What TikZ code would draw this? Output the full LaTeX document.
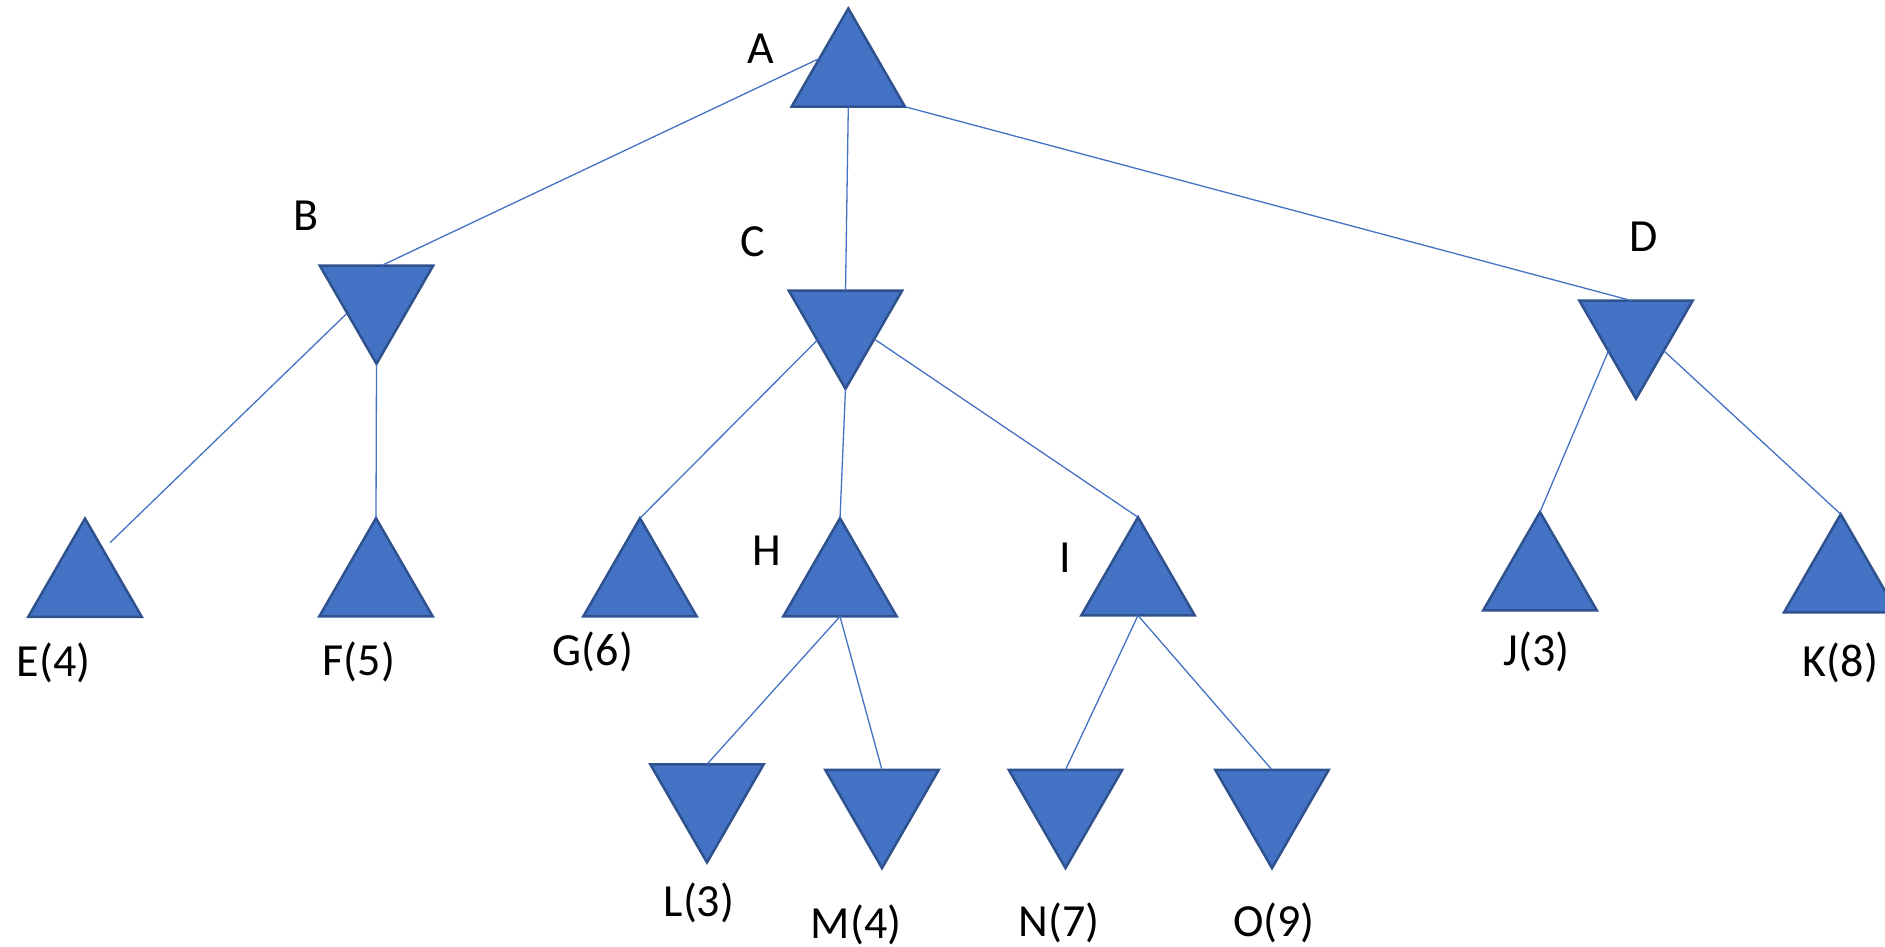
\documentclass[tikz,border=0pt]{standalone}
\usepackage{fontspec}
\setmainfont{Carlito}
\usetikzlibrary{shapes.geometric,calc}
\definecolor{triblue}{HTML}{4472C4}
\definecolor{triedge}{HTML}{2F528F}
\begin{document}
\begin{tikzpicture}[x=0.5pt,y=-0.5pt,
  tri/.style={regular polygon, regular polygon sides=3, minimum size=65.5pt,
    inner sep=0pt, outer sep=0pt, fill=triblue, draw=triedge, line width=1.25pt},
  uptri/.style={tri},
  downtri/.style={tri, shape border rotate=180},
  link/.style={draw=triblue, line width=0.65pt},
  lbl/.style={anchor=base, inner sep=0pt, font=\fontsize{23}{28}\selectfont}]
\useasboundingbox (0,0) rectangle (1885,947);

% tree nodes (max: up, min: down)
\node[uptri]   (A) at (848.3,74) {};
\node[downtri] (B) at (376.5,298.3) {};
\node[downtri] (C) at (845.5,323.3) {};
\node[downtri] (D) at (1636,333.3) {};
\node[uptri]   (E) at (85,584) {};
\node[uptri]   (F) at (376,583.7) {};
\node[uptri]   (G) at (640,583.7) {};
\node[uptri]   (H) at (840,583.7) {};
\node[uptri]   (I) at (1138,582.7) {};
\node[uptri]   (J) at (1540,577.5) {};
\node[uptri]   (K) at (1840.7,579.7) {};
\node[downtri] (L) at (707,797) {};
\node[downtri] (M) at (882,802.6) {};
\node[downtri] (N) at (1065.5,802.6) {};
\node[downtri] (O) at (1272,802.6) {};
\coordinate (Etip) at (110,542.7);

% connectors, attached to points on the triangle sides
\draw[link] ($(A)+(-29,-15.5)$) -- ($(B)+(5.2,-32.8)$);
\draw[link] (A.side 2) -- (C.side 2);
\draw[link] (A.corner 3) -- ($(D)+(-5,-32.8)$);
\draw[link] ($(B)+(-29.5,15)$) -- (Etip);
\draw[link] (B.corner 1) -- (F.corner 1);
\draw[link] ($(C)+(-28.1,16.7)$) -- (G.corner 1);
\draw[link] (C.corner 1) -- (H.corner 1);
\draw[link] ($(C)+(28.7,15.7)$) -- (I.corner 1);
\draw[link] ($(D)+(-27.6,17.7)$) -- (J.corner 1);
\draw[link] ($(D)+(27.7,17.4)$) -- (K.corner 1);
\draw[link] (H.side 2) -- (L.side 2);
\draw[link] (H.side 2) -- (M.side 2);
\draw[link] (I.side 2) -- (N.side 2);
\draw[link] (I.side 2) -- (O.side 2);

% labels
\node[lbl] (lA) at (760.5,63.3) {A};
\node[lbl] (lB) at (306,230) {B};
\node[lbl] (lC) at (753,256) {C};
\node[lbl] (lD) at (1643.5,251.7) {D};
\node[lbl] (lE) at (53.5,676.7) {E(4)};
\node[lbl] (lF) at (359,675) {F(5)};
\node[lbl] (lG) at (593,665) {G(6)};
\node[lbl] (lH) at (767,565) {H};
\node[lbl] (lI) at (1065,572) {I};
\node[lbl] (lJ) at (1536.7,665) {J(3)};
\node[lbl] (lK) at (1840.5,676.7) {K(8)};
\node[lbl] (lL) at (699,916.7) {L(3)};
\node[lbl] (lM) at (856,938.3) {M(4)};
\node[lbl] (lN) at (1059,936.7) {N(7)};
\node[lbl] (lO) at (1274,936.7) {O(9)};
\end{tikzpicture}
\end{document}
